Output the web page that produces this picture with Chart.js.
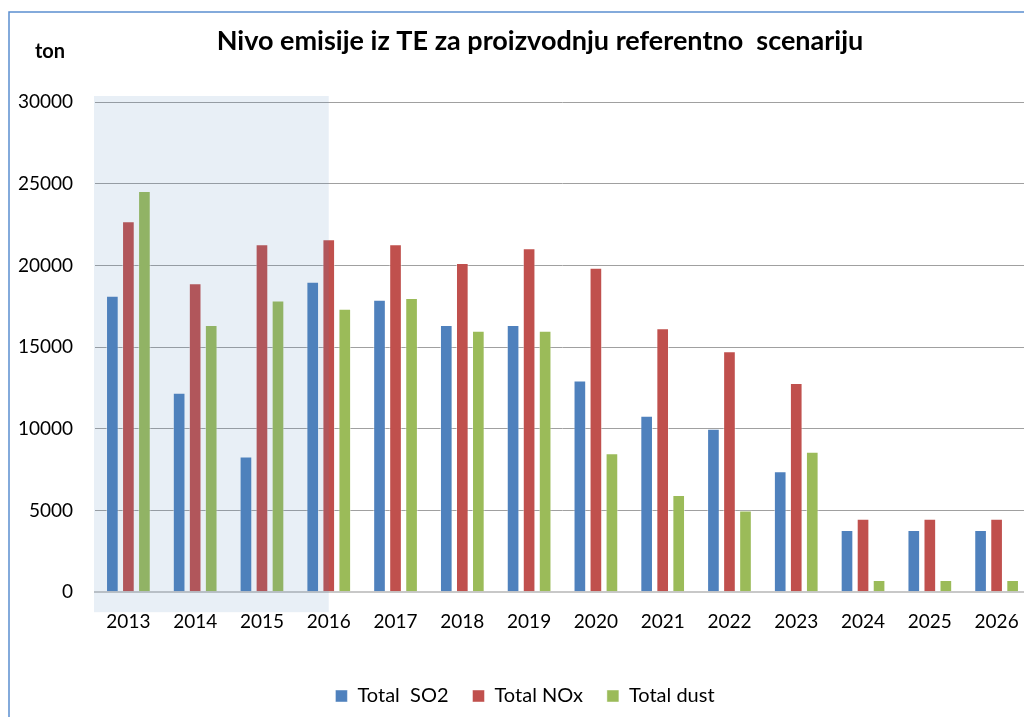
<!DOCTYPE html>
<html><head><meta charset="utf-8">
<script src="https://cdn.jsdelivr.net/npm/chart.js@4"></script>
<style>
html,body{margin:0;padding:0;overflow:hidden;background:#fff}
#wrap{position:relative;width:1040px;height:717px}
</style>
</head><body>
<div id="wrap"><canvas id="c"></canvas></div>
<script>
const years = ['2013','2014','2015','2016','2017','2018','2019','2020','2021','2022','2023','2024','2025','2026'];
const so2  = [18150, 12200, 8300, 19000, 17900, 16350, 16350, 12950, 10800, 10000, 7400, 3800, 3800, 3800];
const nox  = [22700, 18900, 21300, 21600, 21300, 20150, 21050, 19850, 16150, 14750, 12800, 4500, 4500, 4500];
const dust = [24550, 16350, 17850, 17350, 18000, 16000, 16000, 8500, 5950, 5000, 8600, 750, 750, 750];
const seriesNames = ['Total  SO2', 'Total NOx', 'Total dust'];
const titleText = 'Nivo emisije iz TE za proizvodnju referentno  scenariju';
const unitText = 'ton';
const shadedUntil = 3; // index of 2016

const FONT = 'Lato, "Open Sans", sans-serif';

const textPlugin = {
  id: 'texts',
  afterDraw(chart) {
    const ctx = chart.ctx;
    ctx.save();
    ctx.fillStyle = '#000';
    ctx.textAlign = 'center';
    ctx.textBaseline = 'alphabetic';
    ctx.font = 'bold 27px ' + FONT;
    ctx.fillText(titleText, 540, 50);
    ctx.font = 'bold 20px ' + FONT;
    ctx.fillText(unitText, 50, 58);
    // frame
    ctx.strokeStyle = '#5b8ed0';
    ctx.lineWidth = 1.5;
    ctx.beginPath();
    ctx.moveTo(9, 717);
    ctx.lineTo(9, 12);
    ctx.lineTo(1040, 12);
    ctx.stroke();
    ctx.restore();
  }
};

const legendShift = {
  id: 'legendShift',
  afterLayout(chart) {
    if (chart.legend) { chart.legend.left += 20; }
  }
};

const shadePlugin = {
  id: 'shade',
  afterDatasetsDraw(chart) {
    const {ctx, chartArea, scales} = chart;
    const x0 = chartArea.left - 1;
    const x1 = scales.x.getPixelForValue(shadedUntil);
    const y0 = scales.y.getPixelForValue(30000) - 6;
    const y1 = scales.y.getPixelForValue(0) + 20;
    ctx.save();
    ctx.fillStyle = 'rgba(79,129,189,0.13)';
    ctx.fillRect(x0, y0, x1 - x0, y1 - y0);
    ctx.restore();
  }
};

const edge = 'rgba(255,255,255,0.45)';
new Chart(document.getElementById('c'), {
  type: 'bar',
  data: {
    labels: years,
    datasets: [
      {label: seriesNames[0], data: so2, backgroundColor: '#4f81bd', borderColor: edge, borderWidth: 1},
      {label: seriesNames[1], data: nox, backgroundColor: '#c0504d', borderColor: edge, borderWidth: 1},
      {label: seriesNames[2], data: dust, backgroundColor: '#9bbb59', borderColor: edge, borderWidth: 1}
    ]
  },
  options: {
    responsive: true,
    maintainAspectRatio: false,
    animation: false,
    layout: {padding: {left: 0, top: 102, right: 10, bottom: 1}},
    datasets: {bar: {categoryPercentage: 0.72, barPercentage: 0.79}},
    plugins: {
      title: {display: false},
      tooltip: {enabled: false},
      legend: {
        position: 'bottom',
        labels: {
          font: {family: FONT, size: 20},
          color: '#000',
          boxWidth: 12,
          boxHeight: 12,
          padding: 24
        }
      }
    },
    scales: {
      x: {
        afterFit(s) { s.height += 11; },
        grid: {display: false, drawTicks: false},
        border: {display: true, color: '#c8c8c8', width: 2},
        ticks: {font: {family: FONT, size: 19}, color: '#000', padding: 18}
      },
      y: {
        min: 0, max: 30000,
        afterFit(s) { s.width = 95; },
        grid: {
          drawTicks: false,
          color: (c) => c.tick && c.tick.value === 0 ? '#c8c8c8' : '#a0a0a0',
          lineWidth: (c) => c.tick && c.tick.value === 0 ? 2 : 1
        },
        border: {display: false},
        ticks: {
          stepSize: 5000,
          font: {family: FONT, size: 19},
          color: '#000',
          padding: 22,
          callback: (v) => String(v)
        }
      }
    }
  },
  plugins: [shadePlugin, textPlugin, legendShift]
});
</script>
</body></html>
